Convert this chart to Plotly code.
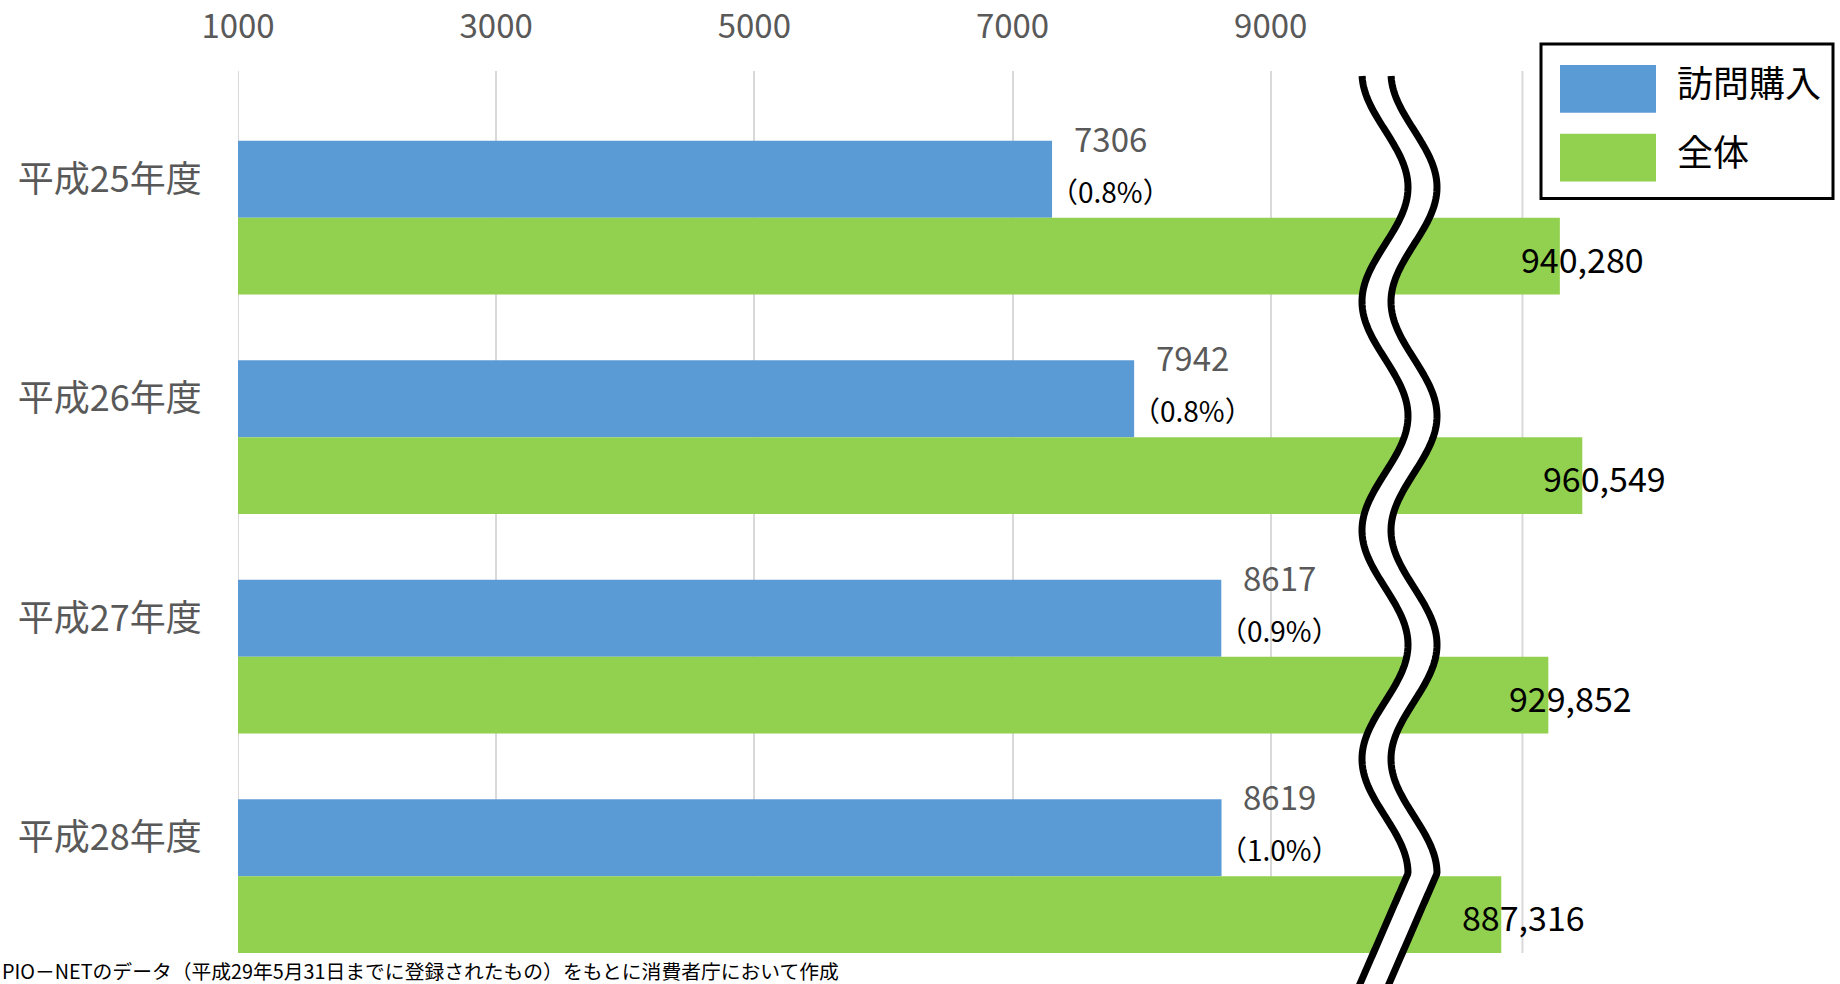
import math
import plotly.graph_objects as go

# ---- data -------------------------------------------------------------
years = ["平成25年度", "平成26年度", "平成27年度", "平成28年度"]
visit_counts = [7306, 7942, 8617, 8619]          # 訪問購入
total_counts = [940280, 960549, 929852, 887316]  # 全体
series_names = ["訪問購入", "全体"]
tick_values = [1000, 3000, 5000, 7000, 9000]
tick_labels = ["1000", "3000", "5000", "7000", "9000"]
source_note = "PIO－NETのデータ（平成29年5月31日までに登録されたもの）をもとに消費者庁において作成"

# ---- scale break: totals are shown on a compressed scale past the break ----
BREAK_AXIS = 10000
BREAK_TOTAL = 795600
TOTALS_PER_AXIS_UNIT = 116.7
SCALE_START = 1000
SCALE_END = 10950          # right edge of the unbroken scale


def total_to_axis(t):
    return BREAK_AXIS + (t - BREAK_TOTAL) / TOTALS_PER_AXIS_UNIT


total_axis = [total_to_axis(t) for t in total_counts]
share_labels = ["（{:.1f}%）".format(v / t * 100) for v, t in zip(visit_counts, total_counts)]
total_labels = ["{:,}".format(t) for t in total_counts]
rows = list(range(len(years)))

# ---- page geometry ----------------------------------------------------
W, H = 1840, 984
L, R, T, B = 238, 1840, 67, 953
PX_PER_UNIT = 0.12909
x_max = SCALE_START + (R - L) / PX_PER_UNIT

BLUE = "#5B9BD5"
GREEN = "#92D050"
GREY_TXT = "#595959"
GRID = "#D9D9D9"
FONT = "Noto Sans CJK JP"


def px(xp):
    return (xp - L) / (R - L)


def py(yp):
    return (B - yp) / (B - T)


fig = go.Figure()
fig.add_trace(go.Bar(
    x=visit_counts, y=rows, orientation="h", name=series_names[0],
    width=0.35, offset=-0.35, marker=dict(color=BLUE, line=dict(width=0)),
    hoverinfo="skip",
))
fig.add_trace(go.Bar(
    x=total_axis, y=rows, orientation="h", name=series_names[1],
    width=0.35, offset=0.0, marker=dict(color=GREEN, line=dict(width=0)),
    hoverinfo="skip",
))

annotations = []
for i, (v, s) in enumerate(zip(visit_counts, share_labels)):
    annotations.append(dict(
        x=v, y=i - 0.35, xref="x", yref="y", text=str(v), showarrow=False,
        xanchor="center", yanchor="middle", xshift=58, yshift=3,
        font=dict(family=FONT, size=33, color=GREY_TXT),
    ))
    annotations.append(dict(
        x=v, y=i - 0.35, xref="x", yref="y", text=s, showarrow=False,
        xanchor="center", yanchor="middle", xshift=58, yshift=-50,
        font=dict(family=FONT, size=28, color="#000000"),
    ))
for i, (xa, lab) in enumerate(zip(total_axis, total_labels)):
    annotations.append(dict(
        x=xa, y=i + 0.175, xref="x", yref="y", text=lab, showarrow=False,
        xanchor="left", yanchor="middle", xshift=-41, yshift=-2,
        font=dict(family=FONT, size=34, color="#000000"),
    ))

# source note along the bottom edge
annotations.append(dict(
    x=px(0), y=py(971), xref="paper", yref="paper", text=source_note,
    showarrow=False, xanchor="left", yanchor="middle",
    font=dict(family=FONT, size=19.8, color="#000000"),
))

# legend (drawn by hand for the large swatches)
shapes = []
shapes.append(dict(type="rect", xref="paper", yref="paper",
                   x0=px(1541), x1=px(1833), y0=py(195), y1=py(40),
                   line=dict(color="#000000", width=3), fillcolor="white", layer="above"))
for k, (name, col, yc) in enumerate(zip(series_names, [BLUE, GREEN], [85, 154])):
    shapes.append(dict(type="rect", xref="paper", yref="paper",
                       x0=px(1560), x1=px(1656), y0=py(yc + 24), y1=py(yc - 24),
                       line=dict(width=0), fillcolor=col, layer="above"))
    annotations.append(dict(
        x=px(1675), y=py(yc - 8), xref="paper", yref="paper", text=name,
        showarrow=False, xanchor="left", yanchor="middle",
        font=dict(family=FONT, size=36, color="#000000"),
    ))

# gridline on the left edge and the right edge line of the unbroken scale
for xv in (SCALE_START, SCALE_END):
    shapes.append(dict(type="line", xref="x", yref="paper", x0=xv, x1=xv,
                       y0=0, y1=1, line=dict(color=GRID, width=2), layer="below"))


# wavy break marker: two black strokes with a white band between them
def wave_x(yp):
    if yp <= 873:
        return 1385 - 23 * math.cos(2 * math.pi * (yp - 69) / 229.7)
    return 1408 - (yp - 873) * 48 / 111


ys = [72 + 2 * k for k in range(int((1000 - 72) / 2) + 1)]
left = [(wave_x(y), y) for y in ys]
right = [(wave_x(y) + 29, y) for y in ys]


def to_path(pts, close=False):
    s = "M " + " L ".join("{:.5f},{:.5f}".format(px(a), py(b)) for a, b in pts)
    return s + (" Z" if close else "")


shapes.append(dict(type="path", xref="paper", yref="paper",
                   path=to_path(left + right[::-1], close=True),
                   fillcolor="white", line=dict(width=0), layer="above"))
for pts in (left, right):
    shapes.append(dict(type="path", xref="paper", yref="paper", path=to_path(pts),
                       fillcolor="rgba(0,0,0,0)", line=dict(color="#000000", width=7),
                       layer="above"))

fig.update_layout(
    width=W, height=H,
    margin=dict(l=L, r=W - R, t=T, b=H - B, pad=0),
    paper_bgcolor="white", plot_bgcolor="white",
    barmode="overlay", showlegend=False,
    font=dict(family=FONT),
    xaxis=dict(
        side="top", range=[SCALE_START, x_max], tickmode="array",
        tickvals=tick_values, ticktext=tick_labels,
        showgrid=True, gridcolor=GRID, gridwidth=2, zeroline=False, showline=False,
        ticks="outside", ticklen=19, tickcolor="rgba(0,0,0,0)",
        tickfont=dict(family=FONT, size=33, color=GREY_TXT),
    ),
    yaxis=dict(
        range=[3.35, -0.668], tickmode="array",
        tickvals=[r - 0.175 for r in rows], ticktext=years,
        showgrid=False, zeroline=False, showline=False,
        ticks="outside", ticklen=28, tickcolor="rgba(0,0,0,0)",
        tickfont=dict(family=FONT, size=36, color=GREY_TXT),
    ),
    annotations=annotations,
    shapes=shapes,
)

fig.write_html("out.html")
